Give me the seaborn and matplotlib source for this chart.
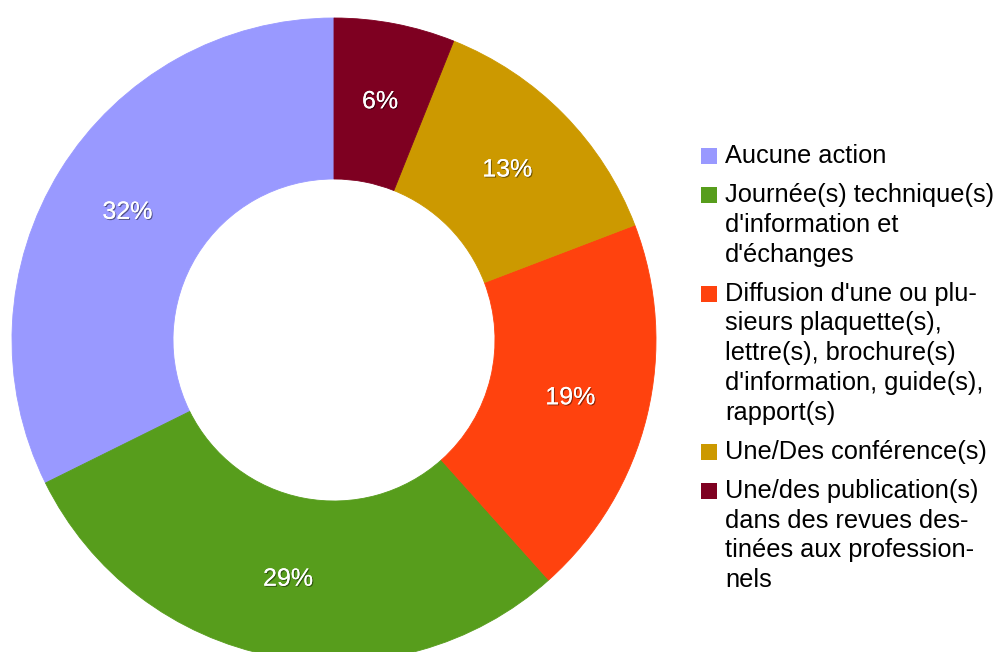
import numpy as np
import seaborn as sns
import matplotlib
matplotlib.use("Agg")
import matplotlib.pyplot as plt
import matplotlib.patheffects as pe
from matplotlib.patches import Rectangle

# données (en %)
categories = [
    "Aucune action",
    "Journée(s) technique(s)\nd'information et\nd'échanges",
    "Diffusion d'une ou plu-\nsieurs plaquette(s),\nlettre(s), brochure(s)\nd'information, guide(s),\nrapport(s)",
    "Une/Des conférence(s)",
    "Une/des publication(s)\ndans des revues des-\ntinées aux profession-\nnels",
]
values = [32, 29, 19, 13, 6]
colors = ["#9999ff", "#579d1c", "#ff420e", "#cc9900", "#7e0021"]

sns.set_style("white")
plt.rcParams["font.family"] = ["Liberation Sans", "DejaVu Sans"]

W, H = 996, 652
fig = plt.figure(figsize=(W / 100, H / 100), dpi=100)

# axes du donut, en pixels
cx, cy, r = 334, 340, 322
ax = fig.add_axes([(cx - r) / W, (H - cy - r) / H, 2 * r / W, 2 * r / H])

wedges, texts, autotexts = ax.pie(
    values, colors=colors, startangle=90, counterclock=True,
    autopct=lambda p: f"{p:.0f}%", pctdistance=0.755,
    wedgeprops=dict(width=0.5, linewidth=0.6),
    textprops=dict(color="white", fontsize=18),
)
for w, c in zip(wedges, colors):
    w.set_edgecolor(c)
    w.set_clip_on(False)
for t in autotexts:
    t.set_path_effects([pe.withSimplePatchShadow(offset=(0.8, -0.8), shadow_rgbFace="black", alpha=0.45),
                        pe.Normal()])
ax.set_xlim(-1, 1)
ax.set_ylim(-1, 1)
ax.set_aspect("equal")
ax.axis("off")

# légende faite à la main : carré aligné sur la première ligne
y = 163
pitch, gap = 29.7, 9.5
for lab, col in zip(categories, colors):
    lines = lab.split("\n")
    fig.patches.append(Rectangle((701 / W, (H - y - 1) / H), 16 / W, 16 / H,
                                 transform=fig.transFigure, facecolor=col, edgecolor="none"))
    for i, ln in enumerate(lines):
        fig.text(725 / W, (H - (y + i * pitch)) / H, ln, fontsize=18.3,
                 va="baseline", ha="left", color="black")
    y += len(lines) * pitch + gap

fig.savefig("out.png", dpi=100)
